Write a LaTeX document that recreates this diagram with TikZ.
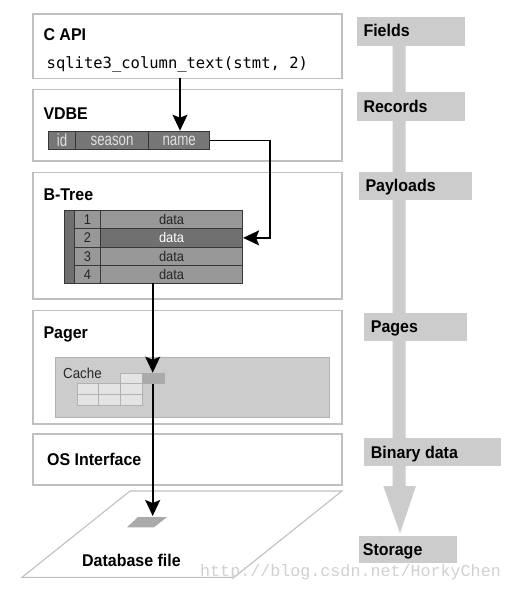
\documentclass[tikz,border=0pt]{standalone}
\usepackage{fontspec}
\setmainfont{Liberation Sans}
\setmonofont{DejaVu Sans Mono}
\newfontfamily\headf{Liberation Sans}[FakeStretch=0.94]
\newfontfamily\condf{Liberation Sans}[FakeStretch=0.76]
\newfontfamily\tabf{Liberation Sans}[FakeStretch=0.92]
\newfontfamily\wmf{Liberation Mono}
\usetikzlibrary{arrows.meta}
\definecolor{boxline}{RGB}{192,192,192}
\definecolor{barfill}{RGB}{118,118,118}
\definecolor{tabfill}{RGB}{152,152,152}
\definecolor{tabdark}{RGB}{112,112,112}
\definecolor{celledge}{RGB}{55,55,55}
\definecolor{labfill}{RGB}{204,204,204}
\definecolor{cachefill}{RGB}{204,204,204}
\definecolor{cacheedge}{RGB}{178,178,178}
\definecolor{pagecell}{RGB}{228,228,228}
\definecolor{pagedark}{RGB}{170,170,170}
\definecolor{wmcol}{RGB}{208,208,208}
\tikzset{
  layer/.style={draw=boxline, line width=1.1pt, fill=white},
  title/.style={anchor=base west, inner sep=0, font=\headf\bfseries\fontsize{17}{20}\selectfont},
  label/.style={anchor=base west, inner sep=0, font=\headf\bfseries\fontsize{17}{20}\selectfont},
  labbox/.style={fill=labfill, draw=none},
  vcell/.style={draw=celledge, line width=0.8pt, fill=barfill, inner sep=0, text=white!88!black,
     font=\condf\fontsize{17.5}{19}\selectfont},
  tcell/.style={draw=celledge, line width=0.8pt, fill=tabfill, inner sep=0, text=black!85,
     font=\tabf\fontsize{14}{16}\selectfont},
  pcell/.style={draw=cacheedge, line width=0.7pt, fill=pagecell, inner sep=0},
  conn/.style={line width=1.6pt, -{Stealth[length=16pt,width=15pt,inset=3pt]}},
}
\begin{document}
\begin{tikzpicture}[x=1pt,y=-1pt]
\useasboundingbox (0,0) rectangle (511,597);
% ---------- right column: flow arrow ----------
\fill[labfill] (392.5,40) -- (405.5,40) -- (405.5,486) -- (416,486) -- (400,533.3) -- (383.3,486) -- (392.5,486) -- cycle;
\fill[labbox] (357.3,17.3) rectangle (465,45.7);
\node[label] (lfields) at (363.3,36.7) {Fields};
\fill[labbox] (357.3,92.3) rectangle (465,120.7);
\node[label] (lrecords) at (363.3,112.3) {Records};
\fill[labbox] (359,171.7) rectangle (472.3,200);
\node[label] (lpayloads) at (365.3,191) {Payloads};
\fill[labbox] (364,312.7) rectangle (466.7,340.7);
\node[label] (lpages) at (370.7,332.3) {Pages};
\fill[labbox] (364,438.3) rectangle (501,465.7);
\node[label] (lbinary) at (370.7,458.3) {Binary data};
\fill[labbox] (359,536) rectangle (457.3,563.3);
\node[label] (lstorage) at (362.7,555.7) {Storage};
% ---------- layer boxes ----------
\draw[layer] (33,14) rectangle (342,78.3);
\node[title] (tcapi) at (43.3,40.7) {C API};
\node[anchor=base west, inner sep=0, font=\ttfamily\fontsize{15.5}{18}\selectfont] (code) at (46.5,68.3) {sqlite3\_column\_text(stmt, 2)};
\coordinate (capibot) at (180,78.3);
\draw[layer] (33,89.3) rectangle (342,161);
\node[title] (tvdbe) at (43.3,119) {VDBE};
\node[vcell, anchor=north west, minimum width=26.7pt, minimum height=18.6pt] (cid) at (48.3,130.7) {id};
\node[vcell, anchor=north west, minimum width=73.3pt, minimum height=18.6pt] (cseason) at (75,130.7) {season};
\node[vcell, anchor=north west, minimum width=61pt, minimum height=18.6pt] (cname) at (148.3,130.7) {name};
\draw[layer] (33,172.7) rectangle (342,299);
\node[title] (tbtree) at (43.3,200) {B-Tree};
\node[draw=celledge, line width=0.8pt, fill=tabdark, anchor=north west, minimum width=9.7pt, minimum height=73.3pt, inner sep=0] (strip) at (64.3,210) {};
\foreach \i/\y in {1/210,2/228.33,3/246.67,4/265}{
  \node[tcell, anchor=north west, minimum width=26pt, minimum height=18.33pt] (n\i) at (74,\y) {\i};
  \node[tcell, anchor=north west, minimum width=142.3pt, minimum height=18.33pt] (r\i) at (100,\y) {data};
}
\node[tcell, fill=tabdark, text=white, anchor=north west, minimum width=142.3pt, minimum height=18.33pt] (r2) at (100,228.33) {data};
\coordinate (tabout) at (152.7,283.3);
\draw[layer] (33,310.7) rectangle (342,424);
\node[title] (tpager) at (43.3,338.3) {Pager};
\node[draw=cacheedge, line width=0.8pt, fill=cachefill, anchor=north west, minimum width=274.3pt, minimum height=60pt, inner sep=0] (cache) at (55,357.3) {};
\node[anchor=base west, inner sep=0, font=\tabf\fontsize{14.5}{17}\selectfont, text=black!85] (tcache) at (63,378) {Cache};
\node[pcell, anchor=north west, minimum width=21.7pt, minimum height=10.6pt] (p1) at (120,372.7) {};
\node[pcell, fill=pagedark, draw=none, anchor=north west, minimum width=22.6pt, minimum height=10.6pt] (pdark) at (141.7,372.7) {};
\foreach \x [count=\j] in {76.7,98.3,120}{
  \node[pcell, anchor=north west, minimum width=21.6pt, minimum height=11pt] (pa\j) at (\x,383.3) {};
  \node[pcell, anchor=north west, minimum width=21.6pt, minimum height=10.7pt] (pb\j) at (\x,394.3) {};
}
\draw[layer] (33,434) rectangle (342,485);
\node[title] (tos) at (47,465) {OS Interface};
% ---------- database file ----------
\draw[draw=boxline, line width=1.1pt, fill=white] (130,491) -- (342,491) -- (234,577.3) -- (22,577.3) -- cycle;
\fill[pagedark] (138,517) -- (167,517) -- (154,527.3) -- (127,527.3) -- cycle;
\coordinate (filepage) at (152.7,516);
\node[title] (tfile) at (82,566.7) {Database file};
% ---------- connectors ----------
\draw[conn] (capibot) -- (cname.north -| capibot);
\draw[conn] (cname.east) -- ++(60,0) |- (r2.east);
\draw[conn] (tabout) -- (pdark.north -| tabout);
\draw[conn] (pdark.south -| tabout) -- (filepage);
% ---------- watermark ----------
\node[anchor=base west, inner sep=0, text=wmcol, font=\wmf\fontsize{16.7}{18}\selectfont] (wm) at (200,576) {http://blog.csdn.net/HorkyChen};
\end{tikzpicture}
\end{document}
